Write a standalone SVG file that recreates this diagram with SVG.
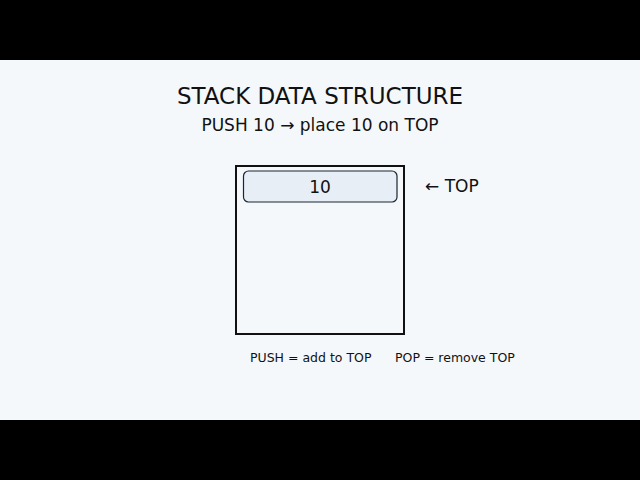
<svg xmlns="http://www.w3.org/2000/svg" width="640" height="480" viewBox="0 0 640 480">
<style>
text{font-family:"DejaVu Sans",sans-serif;fill:#111;}
.t{font-size:23px;text-anchor:middle;}
.s{font-size:17px;text-anchor:middle;}
.n{font-size:17px;text-anchor:middle;}
.l{font-size:17px;}
.f{font-size:12.5px;}
</style>
<rect x="0" y="0" width="640" height="480" fill="#000"/>
<rect x="0" y="60" width="640" height="360" fill="#f4f8fb"/>
<text class="t" x="320" y="104">STACK DATA STRUCTURE</text>
<text class="s" x="320" y="131">PUSH 10 → place 10 on TOP</text>
<g id="stack">
<rect x="236" y="166" width="168" height="168" fill="none" stroke="#111" stroke-width="2"/>
</g>
<g id="item10">
<rect x="243.5" y="171" width="153.5" height="31" rx="5" fill="#e8eef6" stroke="#1a2633" stroke-width="1.2"/>
<text class="n" x="320" y="193">10</text>
</g>
<g id="toplabel">
<text class="l" x="425" y="192">← TOP</text>
</g>
<g id="connectors"></g>
<text class="f" x="250" y="362">PUSH = add to TOP</text>
<text class="f" x="395" y="362">POP = remove TOP</text>
</svg>
